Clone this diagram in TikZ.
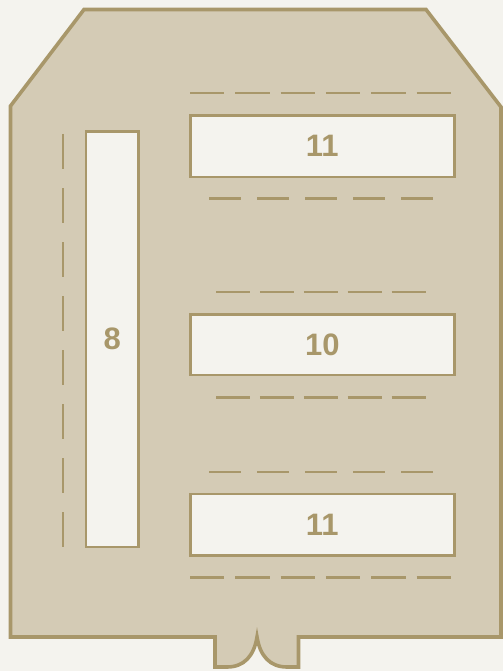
\documentclass[tikz,border=0pt]{standalone}
\usepackage{fontspec}
\setmainfont{Liberation Sans}
\definecolor{bgc}{RGB}{244,243,238}
\definecolor{fillc}{RGB}{212,203,181}
\definecolor{linec}{RGB}{168,151,106}
\tikzset{
  outline/.style={draw=linec, fill=fillc, line width=3.6pt, line join=miter},
  slot/.style={draw=linec, fill=bgc, line width=2.4pt, rectangle, inner sep=0pt, outer sep=0pt,
    text=linec, font=\fontsize{31}{36}\selectfont\bfseries},
  dashrow/.style={draw=linec, line width=2.4pt, line cap=butt},
}
\begin{document}
\begin{tikzpicture}[x=1pt,y=-1pt]
\useasboundingbox (0,0) rectangle (503,671);
\fill[bgc] (0,0) rectangle (503,671);
% outer body
\draw[outline] (84,9.5) -- (426,9.5) -- (501,107) -- (501,637) -- (298.5,637) -- (298.5,667)
  -- (287,667) .. controls (270,667) and (260,656) .. (257,637)
  .. controls (254,656) and (244,667) .. (227,667) -- (215,667) -- (215,637)
  -- (10.5,637) -- (10.5,106) -- cycle;
% slots
\node[slot, minimum width=52.7pt, minimum height=415pt] (b8) at (112.3,339.2) {8};
\node[slot, minimum width=264pt, minimum height=61pt] (b11a) at (322.3,146.2) {11};
\node[slot, minimum width=264pt, minimum height=60.3pt] (b10) at (322.3,344.8) {10};
\node[slot, minimum width=264pt, minimum height=61.3pt] (b11b) at (322.3,524.7) {11};
% dashed guides
\coordinate (v1) at (63,134); \coordinate (v2) at (63,547);
\draw[dashrow, dash pattern=on 35pt off 19pt] (v1) -- (v2);
\coordinate (r1a) at (190,93); \coordinate (r1b) at (451,93);
\draw[dashrow, dash pattern=on 34.3pt off 11pt] (r1a) -- (r1b);
\coordinate (r2a) at (209,198.3); \coordinate (r2b) at (433,198.3);
\draw[dashrow, dash pattern=on 32pt off 16pt] (r2a) -- (r2b);
\coordinate (r3a) at (216,292); \coordinate (r3b) at (425.6,292);
\draw[dashrow, dash pattern=on 34pt off 9.9pt] (r3a) -- (r3b);
\coordinate (r4a) at (216,397.3); \coordinate (r4b) at (425.6,397.3);
\draw[dashrow, dash pattern=on 34pt off 9.9pt] (r4a) -- (r4b);
\coordinate (r5a) at (209,471.7); \coordinate (r5b) at (433,471.7);
\draw[dashrow, dash pattern=on 32pt off 16pt] (r5a) -- (r5b);
\coordinate (r6a) at (190,577.3); \coordinate (r6b) at (451,577.3);
\draw[dashrow, dash pattern=on 34.3pt off 11pt] (r6a) -- (r6b);
\end{tikzpicture}
\end{document}
